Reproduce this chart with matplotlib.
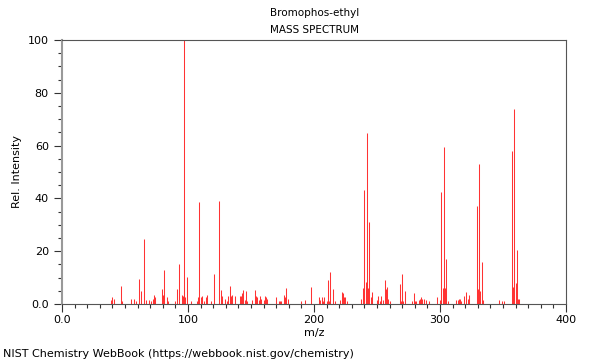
import matplotlib
matplotlib.use("Agg")
import matplotlib.pyplot as plt
from matplotlib.ticker import MultipleLocator, FuncFormatter

# peaks (m/z, relative intensity)
mz = [39, 40, 41, 47, 48, 55, 57, 59, 61, 63, 65, 67, 69, 71, 72, 73, 74,
      79, 80, 81, 83, 84, 90, 91, 93, 95, 96, 97, 98, 99, 102, 107, 108, 109,
      110, 111, 113, 114, 115, 118, 121, 125, 126, 127, 129, 131, 132, 133, 134,
      135, 137, 141, 142, 143, 144, 145, 146, 147, 151, 153, 154, 155, 156, 157,
      158, 160, 161, 162, 163, 170, 172, 173, 174, 176, 177, 178, 179, 190, 193,
      198, 204, 205, 206, 207, 208, 210, 211, 212, 213, 215, 217, 221, 222, 223,
      224, 225, 226, 237, 239, 240, 241, 242, 243, 244, 245, 246, 250, 251, 252,
      253, 255, 256, 257, 258, 259, 260, 268, 269, 270, 271, 272, 278, 279, 280,
      281, 283, 284, 285, 286, 287, 289, 291, 298, 300, 301, 302, 303, 304, 305,
      306, 313, 314, 315, 316, 317, 319, 321, 322, 323, 329, 330, 331, 332, 333,
      334, 347, 349, 351, 357, 358, 359, 360, 361, 362, 363]
intensity = [1.5, 2.5, 2, 6.8, 1, 2, 2, 1, 9.3, 5, 24.7, 1.5, 1.5, 1, 2, 3.5, 2.5,
             5.5, 3.5, 13, 2.5, 1, 1, 5.7, 15.2, 3.5, 3, 100, 2.5, 10.2, 1, 1, 2.5, 38.5,
             2.5, 3, 1, 2.5, 3.5, 1, 11.5, 39.2, 5.4, 3, 2, 1, 3, 6.8, 3,
             3.5, 3, 3, 3, 4, 5.4, 1.5, 5, 1, 1.5, 5.3, 3, 2.5, 1.5, 3,
             2, 1.5, 3, 2.5, 2, 2.5, 1, 1, 1, 3.5, 2.5, 6, 2, 1, 1.5,
             6.5, 2.5, 1.5, 2.5, 1, 2.5, 1, 9.2, 1, 12.1, 5.5, 1, 1.5, 4.5, 4,
             2.5, 2.5, 1, 2, 6, 43, 8.5, 64.8, 6, 31, 2.5, 4.5, 1.5, 3, 1,
             3, 1.5, 9.1, 5.5, 6.5, 2, 1, 7.5, 1, 11.4, 1, 5, 1, 4, 1,
             1, 1.5, 2, 2.5, 2, 2, 1.5, 1, 2.5, 1.5, 42.4, 6, 59.3, 6, 17,
             1, 1.5, 1.5, 2, 2, 1, 3, 4.5, 2, 3.5, 37.1, 5.5, 53, 5, 16,
             1.5, 1.5, 1, 1, 58.1, 6.5, 73.9, 8, 20.5, 2, 2]

fig = plt.figure(figsize=(6, 3.6), dpi=100)
ax = fig.add_axes([0.1033, 0.1556, 0.84, 0.7333])

ax.vlines(mz, 0, intensity, colors="#ff3333", linewidth=0.75)

ax.set_xlim(0, 400)
ax.set_ylim(0, 100)
ax.xaxis.set_major_locator(MultipleLocator(100))
ax.xaxis.set_minor_locator(MultipleLocator(10))
ax.yaxis.set_major_locator(MultipleLocator(20))
ax.yaxis.set_minor_locator(MultipleLocator(5))
fmt = FuncFormatter(lambda v, p: "0.0" if v == 0 else "%d" % v)
ax.xaxis.set_major_formatter(fmt)
ax.yaxis.set_major_formatter(fmt)

ax.tick_params(axis="both", which="major", direction="out", length=6, width=0.8,
               labelsize=8, colors="#333333", labelcolor="black")
ax.tick_params(axis="x", which="major", pad=2)
ax.tick_params(axis="both", which="minor", direction="out", length=3, width=0.8,
               colors="#333333")
for s in ax.spines.values():
    s.set_color("#555555")
    s.set_linewidth(0.8)
ax.spines["left"].set_color("#999999")
ax.spines["left"].set_linewidth(1.5)

ax.set_xlabel("m/z", fontsize=8, labelpad=2)
ax.set_ylabel("Rel. Intensity", fontsize=8)

fig.text(0.525, 0.963, "Bromophos-ethyl", ha="center", va="center", fontsize=7.5)
fig.text(0.525, 0.916, "MASS SPECTRUM", ha="center", va="center", fontsize=7.5)
fig.text(0.005, 0.018, "NIST Chemistry WebBook (https://webbook.nist.gov/chemistry)",
         ha="left", va="center", fontsize=8)

fig.savefig("out.png", dpi=100)
